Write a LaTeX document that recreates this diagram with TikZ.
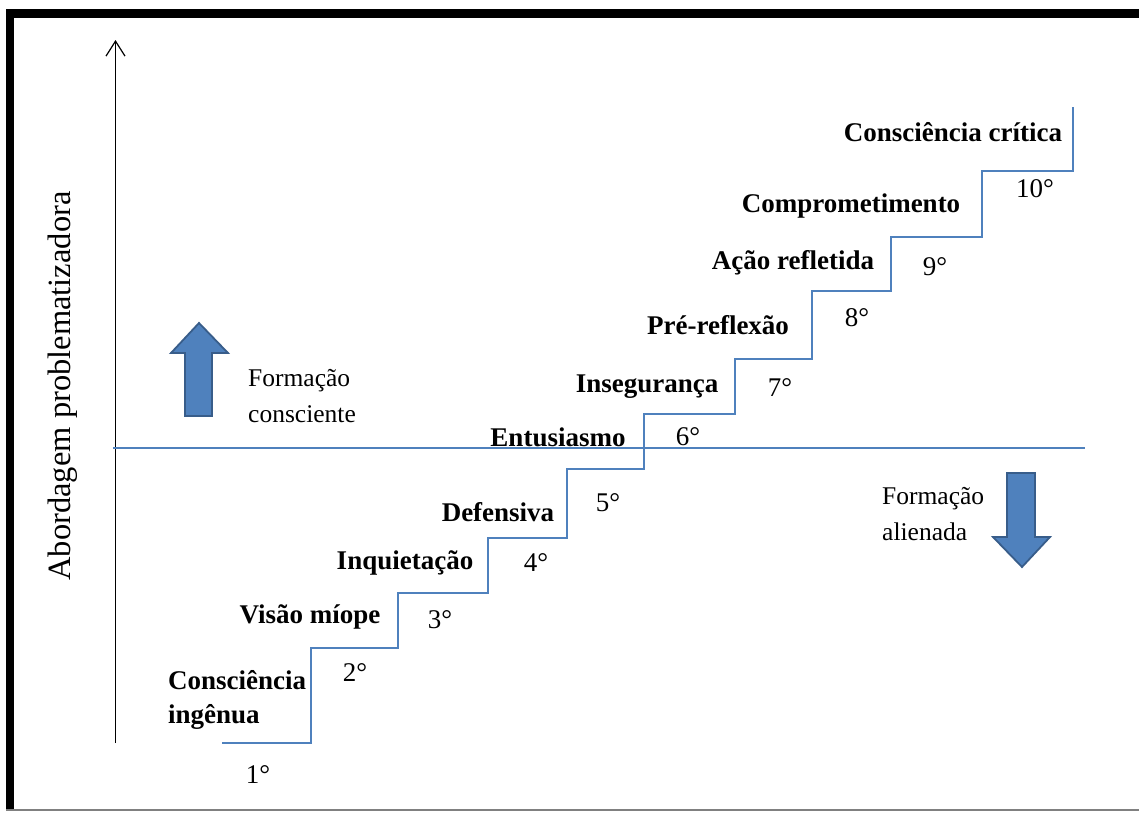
\documentclass[tikz,border=0pt]{standalone}
\usepackage{fontspec}
\setmainfont{Liberation Serif}
\usetikzlibrary{arrows.meta}
\definecolor{stair}{RGB}{79,129,189}
\definecolor{arrfill}{RGB}{79,129,189}
\definecolor{arrdraw}{RGB}{56,93,138}
\begin{document}
\begin{tikzpicture}[x=1pt,y=-1pt,
  lbl/.style={font=\fontsize{27}{34}\selectfont\bfseries, inner sep=0pt},
  num/.style={font=\fontsize{27}{30}\selectfont, inner sep=0pt},
  reg/.style={font=\fontsize{25.5}{36}\selectfont, align=left, inner sep=0pt, anchor=west},
  stairline/.style={draw=stair, line width=1.5pt},
  blockarrow/.style={fill=arrfill, draw=arrdraw, line width=1.8pt, line join=miter}]
\useasboundingbox (0,0) rectangle (1139,812);
% frame
\fill[black] (6,9) rectangle (1139,18);
\fill[black] (6,9) rectangle (14,810);
\draw[gray, line width=1.2pt] (6,810) -- (1139,810);
% axis
\coordinate (axbot) at (115.5,743);
\coordinate (axtop) at (115.5,40);
\draw[line width=1.3pt, black, -{Straight Barb[length=15pt,width=19pt,line width=1.2pt]}] (axbot) -- (axtop);
\node[font=\fontsize{32.5}{34}\selectfont, rotate=90, inner sep=0pt] (axlbl) at (63,386) {Abordagem problematizadora};
% horizontal divider
\coordinate (hl) at (113,448);
\coordinate (hr) at (1085,448);
\draw[stairline] (hl) -- (hr);
% staircase
\draw[stairline, line join=miter] (222,743) -| (311,648) -| (398,593) -| (488,538) -| (567,469) -| (644,414) -| (735,359) -| (812,291) -| (891,237) -| (982,171) -| (1073,107);
% labels
\node[lbl, align=left, anchor=west] (s1) at (168,700) {Consciência\\ingênua};
\node[lbl] (s2) at (310,617) {Visão míope};
\node[lbl] (s3) at (405,563) {Inquietação};
\node[lbl] (s4) at (498,512) {Defensiva};
\node[lbl] (s5) at (558,437) {Entusiasmo};
\node[lbl] (s6) at (647,387) {Insegurança};
\node[lbl] (s7) at (718,325) {Pré-reflexão};
\node[lbl] (s8) at (793,263) {Ação refletida};
\node[lbl] (s9) at (851,206) {Comprometimento};
\node[lbl] (s10) at (953,132) {Consciência crítica};
% numbers
\node[num] (n1) at (258,775) {1°};
\node[num] (n2) at (355,673) {2°};
\node[num] (n3) at (440,620) {3°};
\node[num] (n4) at (536,563) {4°};
\node[num] (n5) at (608,503) {5°};
\node[num] (n6) at (688,437) {6°};
\node[num] (n7) at (780,388) {7°};
\node[num] (n8) at (857,318) {8°};
\node[num] (n9) at (935,267) {9°};
\node[num] (n10) at (1035,189) {10°};
% side texts
\node[reg] (fc) at (248,396) {Formação\\consciente};
\node[reg] (fa) at (882,514) {Formação\\alienada};
% block arrows
\draw[blockarrow] (185,416) -- (185,353) -- (171,353) -- (199,323) -- (228,353) -- (212,353) -- (212,416) -- cycle;
\draw[blockarrow] (1007,473) -- (1035,473) -- (1035,537) -- (1050,537) -- (1022,567) -- (993,537) -- (1007,537) -- cycle;
\end{tikzpicture}
\end{document}
